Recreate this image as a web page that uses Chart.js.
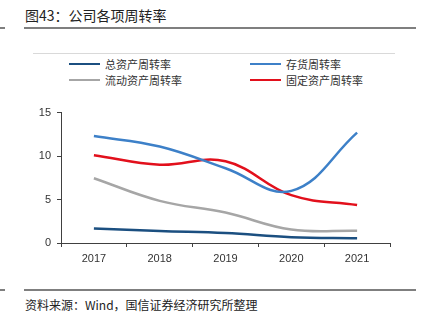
<!DOCTYPE html>
<html>
<head>
<meta charset="utf-8">
<script src="https://cdn.jsdelivr.net/npm/chart.js@4.4.0/dist/chart.umd.min.js"></script>
<style>
  body { margin: 0; background: #fff; font-family: "Noto Sans CJK SC", sans-serif; }
  #wrap { position: relative; width: 429px; height: 325px; overflow: hidden; }
  .title { position: absolute; left: 25px; top: 5px; font-size: 14px; color: #222; }
  .rule { position: absolute; height: 2px; background: #7f7f7f; }
  .thin { position: absolute; height: 1px; background: #d9d9d9; }
  .leg { position: absolute; font-size: 11px; color: #333; display: flex; align-items: center; }
  .leg i { display: inline-block; width: 31px; height: 2.5px; margin-right: 5px; }
  .src { position: absolute; left: 25px; top: 296px; font-size: 12px; color: #222; }
  #box { position: absolute; left: 0; top: 100px; width: 400px; height: 165px; }
</style>
</head>
<body>
<div id="wrap">
  <div class="title">图43：公司各项周转率</div>
  <div class="rule" style="left:0;width:5px;top:27px"></div>
  <div class="rule" style="left:24px;width:392px;top:27px"></div>
  <div class="thin" style="left:33px;width:362px;top:53px"></div>
  <div id="legend"></div>
  <div id="box"><canvas id="c"></canvas></div>
  <div class="rule" style="left:0;width:5px;top:289px"></div>
  <div class="rule" style="left:24px;width:392px;top:289px"></div>
  <div class="src">资料来源：Wind，国信证券经济研究所整理</div>
</div>
<script>
// 数据
const years = ['2017', '2018', '2019', '2020', '2021'];
const totalAsset = [1.68, 1.38, 1.15, 0.67, 0.56];     // 总资产周转率
const inventory = [12.3, 11.1, 8.6, 6.0, 12.7];        // 存货周转率
const currentAsset = [7.45, 4.85, 3.5, 1.55, 1.41];    // 流动资产周转率
const fixedAsset = [10.1, 9.0, 9.4, 5.5, 4.37];        // 固定资产周转率
const yTicks = [0, 5, 10, 15];

const series = [
  { label: '总资产周转率', data: totalAsset, color: '#1b4f80' },
  { label: '存货周转率', data: inventory, color: '#3d80c8' },
  { label: '流动资产周转率', data: currentAsset, color: '#a6a6a6' },
  { label: '固定资产周转率', data: fixedAsset, color: '#e2101c' }
];

// 图例 (两列)
const legendPos = [[69, 56], [250, 56], [69, 72], [250, 72]];
const legend = document.getElementById('legend');
series.forEach((s, i) => {
  const d = document.createElement('div');
  d.className = 'leg';
  d.style.left = legendPos[i][0] + 'px';
  d.style.top = legendPos[i][1] + 'px';
  d.innerHTML = '<i style="background:' + s.color + '"></i>' + s.label;
  legend.appendChild(d);
});

const axisColor = '#404040';

new Chart(document.getElementById('c'), {
  type: 'line',
  data: {
    labels: years,
    datasets: series.map(s => ({
      label: s.label,
      data: s.data,
      borderColor: s.color,
      backgroundColor: s.color,
      borderWidth: 2.5,
      pointRadius: 0,
      tension: 0.4,
      fill: false
    }))
  },
  options: {
    responsive: true,
    maintainAspectRatio: false,
    animation: false,
    layout: { padding: { top: 7, right: 10, left: 0, bottom: 0 } },
    plugins: { legend: { display: false }, tooltip: { enabled: false } },
    scales: {
      x: {
        offset: true,
        grid: { offset: true, drawOnChartArea: false, color: axisColor, tickLength: 4 },
        border: { color: axisColor, width: 1 },
        ticks: { color: '#333', font: { size: 11, family: 'Liberation Sans' }, padding: 5, maxRotation: 0 },
        afterFit: s => { s.height = 22; }
      },
      y: {
        min: 0,
        max: 15,
        afterBuildTicks: s => { s.ticks = yTicks.map(v => ({ value: v })); },
        grid: { drawOnChartArea: false, color: axisColor, tickLength: 4 },
        border: { color: axisColor, width: 1 },
        ticks: { color: '#333', font: { size: 11, family: 'Liberation Sans' }, padding: 6 },
        afterFit: s => { s.width = 61; }
      }
    }
  }
});
</script>
</body>
</html>
